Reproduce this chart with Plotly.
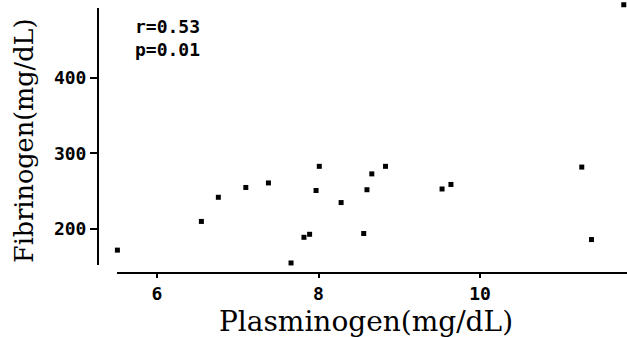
import plotly.graph_objects as go

# Data
plasminogen = [5.51, 6.55, 6.76, 7.10, 7.38, 7.66, 7.82, 7.89, 7.97, 8.01,
               8.28, 8.56, 8.60, 8.66, 8.83, 9.53, 9.64, 11.26, 11.38, 11.78]
fibrinogen = [172, 210, 242, 255, 261, 155, 189, 193, 251, 283,
              235, 194, 252, 273, 283, 253, 259, 282, 186, 497]
x_ticks = [6, 8, 10]
y_ticks = [200, 300, 400]
stats_text = "r=0.53<br>p=0.01"
x_title = "Plasminogen(mg/dL)"
y_title = "Fibrinogen(mg/dL)"

W, H = 627, 337
ML, MR, MT, MB = 98, 0, 0, 64
PW, PH = W - ML - MR, H - MT - MB


def px(x):
    return (x - ML) / PW


def py(y):
    return (H - MB - y) / PH


fig = go.Figure()
fig.add_trace(go.Scatter(
    x=plasminogen, y=fibrinogen, mode="markers",
    marker=dict(symbol="square", size=5, color="black", line=dict(width=0)),
    cliponaxis=False, showlegend=False,
))

mono = dict(family="DejaVu Sans Mono", size=18, color="black", weight="bold")

# y axis: extend range slightly above the drawn axis line so the top point shows
y_lo, scale = 152.3, 0.755  # value at bottom of axis, px per unit
y_hi = 502
y_top_px = 265 - (y_hi - y_lo) * scale

fig.update_layout(
    width=W, height=H,
    margin=dict(l=ML, r=MR, t=MT, b=MB, pad=0),
    paper_bgcolor="white", plot_bgcolor="white",
    xaxis=dict(
        domain=[px(117), 1], range=[5.505, 11.82],
        anchor="free", position=0,
        showline=True, linecolor="black", linewidth=2,
        ticks="outside", ticklen=4, tickwidth=1.5, tickcolor="black",
        tickvals=x_ticks, ticktext=[str(v) for v in x_ticks],
        tickfont=mono, showgrid=False, zeroline=False,
    ),
    yaxis=dict(
        domain=[py(265), py(y_top_px)], range=[y_lo, y_hi],
        anchor="free", position=0,
        showline=False,
        ticks="outside", ticklen=8, tickwidth=1.5, tickcolor="black",
        tickvals=y_ticks, ticktext=[str(v) for v in y_ticks],
        tickfont=mono, showgrid=False, zeroline=False,
    ),
    shapes=[
        dict(type="line", xref="paper", yref="paper",
             x0=0, x1=0, y0=py(265), y1=py(8),
             line=dict(color="black", width=2)),
    ],
    annotations=[
        dict(text=stats_text, xref="paper", yref="paper",
             x=px(133), y=py(14), xanchor="left", yanchor="top",
             align="left", showarrow=False, font=mono),
        dict(text=x_title, xref="paper", yref="paper",
             x=px(366), y=py(321), xanchor="center", yanchor="middle",
             showarrow=False,
             font=dict(family="DejaVu Serif", size=28, color="black")),
        dict(text=y_title, xref="paper", yref="paper",
             x=px(24), y=py(141), xanchor="center", yanchor="middle",
             textangle=-90, showarrow=False,
             font=dict(family="DejaVu Serif", size=25.5, color="black")),
    ],
)

fig.write_html("out.html", config={"displayModeBar": False},
               post_script="document.body.style.margin='0';")
